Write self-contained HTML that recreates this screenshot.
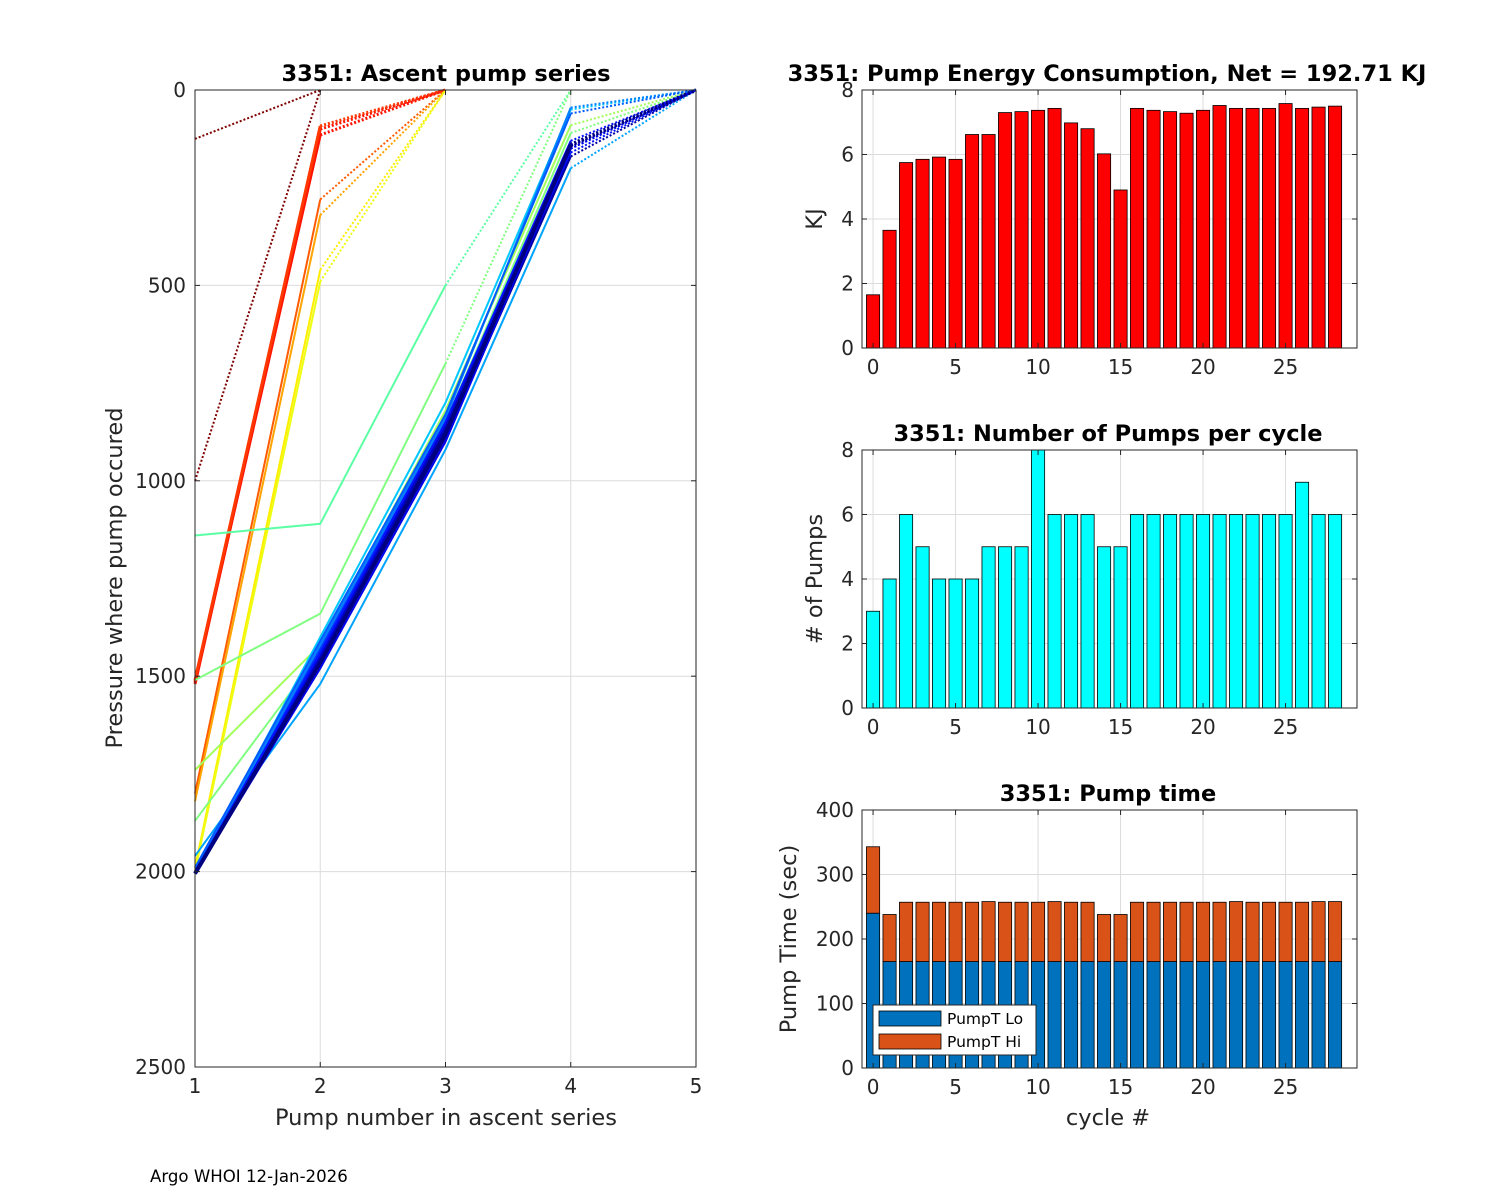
<!DOCTYPE html>
<html><head><meta charset="utf-8"><style>
body{margin:0;background:#fff;}
svg{display:block;font-family:"DejaVu Sans","Liberation Sans",sans-serif;}
</style></head><body>
<svg id="fig" width="1500" height="1200" viewBox="0 0 1500 1200" xmlns="http://www.w3.org/2000/svg">
<rect width="1500" height="1200" fill="#fff"/>
<text x="150" y="1182" font-size="16.6" fill="#000">Argo WHOI 12-Jan-2026</text>
</svg>
<script>
// ---- Left chart data ----
const profileCycles = [0,0,4,4,5,6,8,10,11,15,14,13,14,20,22,23,19,24,25,21,22,26,27,23,24,25,26,27,28];
const profilePressures = [
 [125,0],[1000,0],
 [1520,100,0],[1515,115,0],[1510,92,0],
 [1800,280,0],[1820,320,0],[1990,460,0],[2000,490,0],
 [1140,1110,500,0],[1510,1340,700,0],[1740,1420,820,90,0],[1870,1440,850,110,0],
 [1960,1520,920,200,0],[2000,1450,870,150,0],[2005,1430,850,140,0],[2000,1400,800,50,0],
 [2000,1460,880,160,0],[2005,1440,860,140,0],[2000,1420,840,45,0],[1990,1410,830,60,0],
 [2005,1450,860,150,0],[2000,1470,890,170,0],[2005,1460,870,140,0],[2000,1440,850,130,0],
 [2005,1480,900,150,0],[2000,1470,880,140,0],[2005,1460,870,145,0],[2005,1465,880,140,0]
];
const leftXTicks = [1,2,3,4,5];
const leftYTicks = [0,500,1000,1500,2000,2500];
// ---- Right chart data ----
const cycles = Array.from({length:29},(_,i)=>i);
const energyKJ = [1.65,3.65,5.75,5.85,5.92,5.85,6.62,6.62,7.3,7.33,7.37,7.43,6.98,6.8,6.02,4.9,7.43,7.37,7.33,7.28,7.37,7.52,7.43,7.43,7.43,7.58,7.43,7.47,7.5];
const pumpCounts = [3,4,6,5,4,4,4,5,5,5,8,6,6,6,5,5,6,6,6,6,6,6,6,6,6,6,7,6,6];
const pumpTimeLo = [240,165,165,165,165,165,165,165,165,165,165,165,165,165,165,165,165,165,165,165,165,165,165,165,165,165,165,165,165];
const pumpTimeHi = [103,73,92,92,92,92,92,93,92,92,92,93,92,92,73,73,92,92,92,92,92,92,93,92,92,92,92,93,93];
const rightXTicks = [0,5,10,15,20,25];
const energyTicks = [0,2,4,6,8];
const pumpTicks = [0,2,4,6,8];
const timeTicks = [0,100,200,300,400];

const NS="http://www.w3.org/2000/svg";
const svg=document.getElementById('fig');
const TICK=20, TITLE=22.5, LABEL=22.5;
function mk(tag,attrs,parent){const e=document.createElementNS(NS,tag);for(const k in attrs)e.setAttribute(k,attrs[k]);(parent||svg).appendChild(e);return e;}
function txt(s,attrs,parent){const e=mk('text',attrs,parent);e.textContent=s;return e;}
function jet(t){const c=v=>Math.round(255*Math.max(0,Math.min(1,v)));
  return `rgb(${c(Math.min(4*t-1.5,-4*t+4.5))},${c(Math.min(4*t-0.5,-4*t+3.5))},${c(Math.min(4*t+0.5,-4*t+2.5))})`;}

// Left chart
const L={x0:195,x1:696,y0:90,y1:1067};
const lx=v=>L.x0+(v-1)/(5-1)*(L.x1-L.x0);
const ly=v=>L.y0+v/2500*(L.y1-L.y0);
const gL=mk('g',{});


mk('rect',{x:L.x0,y:L.y0,width:L.x1-L.x0,height:L.y1-L.y0,fill:'#fff'},gL);
leftXTicks.forEach(t=>{mk('line',{x1:lx(t),x2:lx(t),y1:L.y0,y2:L.y1,stroke:'#dcdcdc','stroke-width':1},gL);});
leftYTicks.forEach(t=>{mk('line',{x1:L.x0,x2:L.x1,y1:ly(t),y2:ly(t),stroke:'#dcdcdc','stroke-width':1},gL);});
profilePressures.forEach((p,i)=>{
  const cyc=profileCycles[i];
  const col=jet(1-cyc/28);
  const n=p.length;
  const w=cyc>=28?4:(cyc>=3&&cyc<=5?3:2);
  if(n>2){
    const pts=p.slice(0,n-1).map((v,k)=>lx(k+1)+','+ly(v)).join(' ');
    const e=mk('polyline',{points:pts,fill:'none',stroke:col,'stroke-width':w},gL);
    
    
  }
  const e2=mk('line',{x1:lx(n-1),y1:ly(p[n-2]),x2:lx(n),y2:ly(p[n-1]),stroke:col,'stroke-width':w,'stroke-dasharray':'2 2'},gL);
  
  
});
mk('rect',{x:L.x0,y:L.y0,width:L.x1-L.x0,height:L.y1-L.y0,fill:'none',stroke:'#262626','stroke-width':1},gL);
leftXTicks.forEach(t=>{
  mk('line',{x1:lx(t),x2:lx(t),y1:L.y1,y2:L.y1-5,stroke:'#262626'},gL);
  mk('line',{x1:lx(t),x2:lx(t),y1:L.y0,y2:L.y0+5,stroke:'#262626'},gL);
  const e=txt(String(t),{x:lx(t),y:L.y1+26,'font-size':TICK,'text-anchor':'middle',fill:'#262626'},gL);
  
});
leftYTicks.forEach(t=>{
  mk('line',{x1:L.x0,x2:L.x0+5,y1:ly(t),y2:ly(t),stroke:'#262626'},gL);
  mk('line',{x1:L.x1,x2:L.x1-5,y1:ly(t),y2:ly(t),stroke:'#262626'},gL);
  const e=txt(String(t),{x:L.x0-9,y:ly(t)+7,'font-size':TICK,'text-anchor':'end',fill:'#262626'},gL);
  
});
txt('3351: Ascent pump series',{x:446,y:81,'font-size':TITLE,'font-weight':'bold','text-anchor':'middle',fill:'#000',},gL);
txt('Pump number in ascent series',{x:446,y:1125,'font-size':LABEL,'text-anchor':'middle',fill:'#262626',},gL);
txt('Pressure where pump occured',{x:0,y:0,'font-size':LABEL,'text-anchor':'middle',fill:'#262626',transform:'translate(122,578) rotate(-90)',},gL);

// Right charts
const RX0=862,RX1=1357,XMIN=-0.67,XMAX=29.33;
const rx=v=>RX0+(v-XMIN)/(XMAX-XMIN)*(RX1-RX0);
const bw=0.8*(RX1-RX0)/(XMAX-XMIN);
function barChart(o){
  const g=mk('g',{});
  
  
  const ry=v=>o.y1-(v/o.ymax)*(o.y1-o.y0);
  mk('rect',{x:RX0,y:o.y0,width:RX1-RX0,height:o.y1-o.y0,fill:'#fff'},g);
  rightXTicks.forEach(t=>mk('line',{x1:rx(t),x2:rx(t),y1:o.y0,y2:o.y1,stroke:'#dcdcdc'},g));
  o.yticks.forEach(t=>mk('line',{x1:RX0,x2:RX1,y1:ry(t),y2:ry(t),stroke:'#dcdcdc'},g));
  o.series.forEach(s=>{
    cycles.forEach((c,i)=>{
      const base=s.base?s.base[i]:0;
      const top=base+s.vals[i];
      const r=mk('rect',{x:rx(c)-bw/2,y:ry(top),width:bw,height:ry(base)-ry(top),fill:s.color,stroke:'#000','stroke-width':0.8},g);
      
      
    });
  });
  mk('rect',{x:RX0,y:o.y0,width:RX1-RX0,height:o.y1-o.y0,fill:'none',stroke:'#262626'},g);
  rightXTicks.forEach(t=>{
    mk('line',{x1:rx(t),x2:rx(t),y1:o.y1,y2:o.y1-5,stroke:'#262626'},g);
    mk('line',{x1:rx(t),x2:rx(t),y1:o.y0,y2:o.y0+5,stroke:'#262626'},g);
    const e=txt(String(t),{x:rx(t),y:o.y1+26,'font-size':TICK,'text-anchor':'middle',fill:'#262626'},g);
    
  });
  o.yticks.forEach(t=>{
    mk('line',{x1:RX0,x2:RX0+5,y1:ry(t),y2:ry(t),stroke:'#262626'},g);
    mk('line',{x1:RX1,x2:RX1-5,y1:ry(t),y2:ry(t),stroke:'#262626'},g);
    const e=txt(String(t),{x:RX0-8,y:ry(t)+7,'font-size':TICK,'text-anchor':'end',fill:'#262626'},g);
    
  });
  const tt=txt(o.title,{x:o.tx||1108,y:o.y0-9,'font-size':TITLE,'font-weight':'bold','text-anchor':'middle',fill:'#000'},g);
  
  const yt=txt(o.ylabel,{x:0,y:0,'font-size':LABEL,'text-anchor':'middle',fill:'#262626',transform:`translate(${o.ylx},${(o.y0+o.y1)/2}) rotate(-90)`},g);
  
  return g;
}
barChart({name:'energy-chart',y0:90,y1:348,ymax:8,yticks:energyTicks,title:'3351: Pump Energy Consumption,  Net = 192.71 KJ',tx:1107,ylabel:'KJ',ylx:822,
  series:[{vals:energyKJ,color:'#ff0000',barName:'energy-bar'}]});
barChart({name:'pump-count-chart',y0:450,y1:708,ymax:8,yticks:pumpTicks,title:'3351: Number of Pumps per cycle',ylabel:'# of Pumps',ylx:822,
  series:[{vals:pumpCounts,color:'#00ffff',barName:'pump-count-bar'}]});
const g3=barChart({name:'pump-time-chart',y0:810,y1:1068,ymax:400,yticks:timeTicks,title:'3351: Pump time',ylabel:'Pump Time (sec)',ylx:796,
  series:[{vals:pumpTimeLo,color:'#0072bd',barName:'pump-time-lo-bar'},{vals:pumpTimeHi,base:pumpTimeLo,color:'#d95319',barName:'pump-time-hi-bar'}]});
txt('cycle #',{x:1108,y:1125,'font-size':LABEL,'text-anchor':'middle',fill:'#262626',},g3);
const lg=mk('g',{},g3);


mk('rect',{x:873,y:1005,width:163,height:50,fill:'#fff',stroke:'#262626'},lg);
mk('rect',{x:879,y:1011,width:62,height:15,fill:'#0072bd',stroke:'#000','stroke-width':0.8},lg);
mk('rect',{x:879,y:1034,width:62,height:15,fill:'#d95319',stroke:'#000','stroke-width':0.8},lg);
txt('PumpT Lo',{x:947,y:1024,'font-size':15.5,fill:'#000',},lg);
txt('PumpT Hi',{x:947,y:1047,'font-size':15.5,fill:'#000',},lg);
</script>
</body></html>
